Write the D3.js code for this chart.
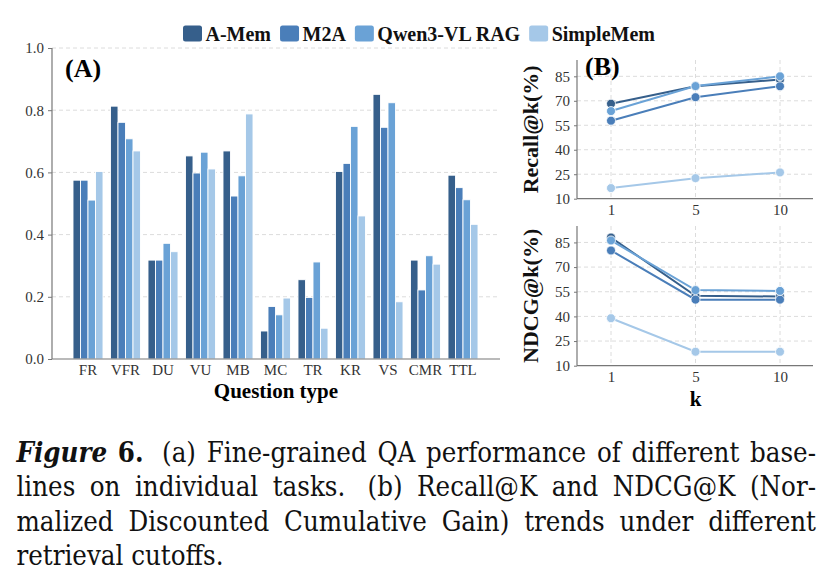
<!DOCTYPE html>
<html>
<head>
<meta charset="utf-8">
<script src="https://cdn.jsdelivr.net/npm/d3@7"></script>
<style>
  body { margin: 0; background: #fff; }
  svg { display: block; }
</style>
</head>
<body>
<div id="canvas"></div>
<script>
// panel (A): question types and per-method scores
var CATEGORIES = ['FR', 'VFR', 'DU', 'VU', 'MB', 'MC', 'TR', 'KR', 'VS', 'CMR', 'TTL']
var SERIES = ['A-Mem', 'M2A', 'Qwen3-VL RAG', 'SimpleMem']
var A_MEM = [0.575, 0.813, 0.318, 0.653, 0.669, 0.090, 0.255, 0.603, 0.851, 0.318, 0.591]
var M2A = [0.575, 0.761, 0.318, 0.598, 0.524, 0.169, 0.198, 0.629, 0.745, 0.222, 0.551]
var QWEN = [0.511, 0.708, 0.372, 0.665, 0.589, 0.142, 0.312, 0.748, 0.824, 0.332, 0.512]
var SIMPLEMEM = [0.603, 0.669, 0.345, 0.611, 0.788, 0.196, 0.099, 0.460, 0.184, 0.305, 0.433]
var BAR_TICKS = [0, 0.2, 0.4, 0.6, 0.8, 1.0]

// panel (B): retrieval cutoffs
var K_VALUES = ['1', '5', '10']
var RECALL_A_MEM = [68.2, 78.9, 83.0]
var RECALL_M2A = [57.8, 72.2, 78.9]
var RECALL_QWEN = [63.7, 79.0, 85.0]
var RECALL_SIMPLEMEM = [16.5, 22.6, 26.1]
var NDCG_A_MEM = [88.0, 52.5, 52.1]
var NDCG_M2A = [80.1, 50.2, 50.2]
var NDCG_QWEN = [86.2, 56.0, 55.5]
var NDCG_SIMPLEMEM = [38.9, 18.5, 18.5]
var LINE_TICKS = [10, 25, 40, 55, 70, 85]

var CAPTION_LABEL = ['Figure', '6.']
var CAPTION_LINES = [
  '(a) Fine-grained QA performance of different base-',
  'lines on individual tasks.  (b) Recall@K and NDCG@K (Nor-',
  'malized Discounted Cumulative Gain) trends under different',
  'retrieval cutoffs.'
]

var COLORS = ['#365f8b', '#4a7eb9', '#6aa2d6', '#a5c8e8']
var FONT = '"Liberation Serif", "Times New Roman", serif'
var CAPTION_FONT = '"DejaVu Serif Condensed", "DejaVu Serif", serif'
var AXIS_COLOR = '#777'
var GRID_COLOR = '#dcdcdc'

var WIDTH = 839
var HEIGHT = 585

var svg = d3.select('#canvas').append('svg')
  .attr('width', WIDTH)
  .attr('height', HEIGHT)
  .attr('font-family', FONT)

var styleAxis = function (g, size) {
  g.select('.domain').remove()
  g.selectAll('.tick line').attr('stroke', AXIS_COLOR).attr('stroke-width', 1)
  g.selectAll('.tick text')
    .attr('fill', '#333')
    .attr('font-size', size || 15)
    .attr('font-family', FONT)
}

// ---------- (A) bar chart ----------
var BAR = {left: 52, right: 500, top: 48, bottom: 359}
var barValues = [A_MEM, M2A, QWEN, SIMPLEMEM]

var x = d3.scaleBand()
  .domain(CATEGORIES)
  .range([69.25, 481.75])
  .paddingInner(0.2)
  .paddingOuter(0.1)

var xs = d3.scaleBand()
  .domain(SERIES)
  .range([0, x.bandwidth()])

var y = d3.scaleLinear().domain([0, 1]).range([BAR.bottom, BAR.top])

var barG = svg.append('g')

barG.append('g').selectAll('line')
  .data(BAR_TICKS.filter(function (d) { return d > 0 }))
  .join('line')
  .attr('x1', BAR.left).attr('x2', BAR.right)
  .attr('y1', y).attr('y2', y)
  .attr('stroke', GRID_COLOR)
  .attr('stroke-dasharray', '4,3')

SERIES.forEach(function (s, si) {
  barG.append('g').selectAll('rect')
    .data(barValues[si])
    .join('rect')
    .attr('x', function (d, i) { return x(CATEGORIES[i]) + xs(s) })
    .attr('y', function (d) { return y(d) })
    .attr('width', xs.bandwidth())
    .attr('height', function (d) { return y(0) - y(d) })
    .attr('fill', COLORS[si])
    .attr('stroke', '#fff')
    .attr('stroke-width', 0.9)
})

barG.append('line')
  .attr('x1', BAR.left).attr('x2', BAR.left)
  .attr('y1', y(1)).attr('y2', y(0))
  .attr('stroke', AXIS_COLOR).attr('stroke-width', 1.2)
barG.append('line')
  .attr('x1', BAR.left).attr('x2', BAR.right)
  .attr('y1', y(0)).attr('y2', y(0))
  .attr('stroke', AXIS_COLOR).attr('stroke-width', 1.2)

barG.append('g')
  .attr('transform', 'translate(' + BAR.left + ',0)')
  .call(d3.axisLeft(y).tickValues(BAR_TICKS).tickFormat(d3.format('.1f')).tickSize(4).tickPadding(4))
  .call(styleAxis)

barG.append('g')
  .attr('transform', 'translate(0,' + BAR.bottom + ')')
  .call(d3.axisBottom(x).tickSize(0).tickPadding(5))
  .call(styleAxis)

barG.append('text')
  .attr('x', (BAR.left + BAR.right) / 2)
  .attr('y', 398)
  .attr('text-anchor', 'middle')
  .attr('font-weight', 'bold')
  .attr('font-size', 21)
  .text('Question type')

barG.append('text')
  .attr('x', 65).attr('y', 77)
  .attr('font-weight', 'bold')
  .attr('font-size', 26)
  .text('(A)')

// legend
var legend = svg.append('g')
var lx = 183
SERIES.forEach(function (s, i) {
  legend.append('rect')
    .attr('x', lx).attr('y', 25.5)
    .attr('width', 19).attr('height', 16)
    .attr('rx', 2.5)
    .attr('fill', COLORS[i])
  var t = legend.append('text')
    .attr('x', lx + 22.5).attr('y', 41)
    .attr('font-weight', 'bold')
    .attr('font-size', 20)
    .attr('fill', '#111')
    .text(s)
  lx += 22.5 + t.node().getComputedTextLength() + 9
})

// ---------- (B) line charts ----------
var LINE_LEFT = 577
var LINE_RIGHT = 813
var xk = d3.scalePoint().domain(K_VALUES).range([611, 780])

var drawPanel = function (top, bottom, series, label) {
  var g = svg.append('g')
  var yl = d3.scaleLinear().domain([10, 95]).range([bottom, top])

  g.append('g').selectAll('line')
    .data(LINE_TICKS.filter(function (d) { return d > 10 }))
    .join('line')
    .attr('x1', LINE_LEFT).attr('x2', LINE_RIGHT)
    .attr('y1', yl).attr('y2', yl)
    .attr('stroke', GRID_COLOR)
    .attr('stroke-dasharray', '4,3')
  g.append('g').selectAll('line')
    .data(K_VALUES)
    .join('line')
    .attr('x1', xk).attr('x2', xk)
    .attr('y1', top).attr('y2', bottom)
    .attr('stroke', GRID_COLOR)
    .attr('stroke-dasharray', '4,3')

  var line = d3.line()
    .x(function (d, i) { return xk(K_VALUES[i]) })
    .y(function (d) { return yl(d) })

  series.forEach(function (vals, si) {
    g.append('path')
      .attr('d', line(vals))
      .attr('fill', 'none')
      .attr('stroke', COLORS[si])
      .attr('stroke-width', 2)
    g.append('g').selectAll('circle')
      .data(vals)
      .join('circle')
      .attr('cx', function (d, i) { return xk(K_VALUES[i]) })
      .attr('cy', function (d) { return yl(d) })
      .attr('r', 4.5)
      .attr('fill', COLORS[si])
      .attr('stroke', '#fff')
      .attr('stroke-width', 0.8)
  })

  g.append('line')
    .attr('x1', LINE_LEFT).attr('x2', LINE_LEFT)
    .attr('y1', top).attr('y2', bottom)
    .attr('stroke', AXIS_COLOR).attr('stroke-width', 1.2)
  g.append('line')
    .attr('x1', LINE_LEFT).attr('x2', LINE_RIGHT)
    .attr('y1', bottom).attr('y2', bottom)
    .attr('stroke', AXIS_COLOR).attr('stroke-width', 1.2)

  g.append('g')
    .attr('transform', 'translate(' + LINE_LEFT + ',0)')
    .call(d3.axisLeft(yl).tickValues(LINE_TICKS).tickSize(3).tickPadding(4))
    .call(styleAxis)
  g.append('g')
    .attr('transform', 'translate(0,' + bottom + ')')
    .call(d3.axisBottom(xk).tickSize(0).tickPadding(6))
    .call(styleAxis)

  g.append('text')
    .attr('transform', 'translate(538,' + ((top + bottom) / 2) + ') rotate(-90)')
    .attr('text-anchor', 'middle')
    .attr('font-weight', 'bold')
    .attr('font-size', 22)
    .attr('fill', '#111')
    .text(label)
}

drawPanel(60, 198.7, [RECALL_A_MEM, RECALL_M2A, RECALL_QWEN, RECALL_SIMPLEMEM], 'Recall@k(%)')
drawPanel(226, 365.7, [NDCG_A_MEM, NDCG_M2A, NDCG_QWEN, NDCG_SIMPLEMEM], 'NDCG@k(%)')

svg.append('text')
  .attr('x', 585).attr('y', 75)
  .attr('font-weight', 'bold')
  .attr('font-size', 26)
  .text('(B)')

svg.append('text')
  .attr('x', xk('5')).attr('y', 406)
  .attr('text-anchor', 'middle')
  .attr('font-weight', 'bold')
  .attr('font-size', 21)
  .text('k')

// ---------- caption (justified by hand) ----------
var CAP_LEFT = 16.5
var CAP_RIGHT = 816
var CAP_BASE = 461.5
var CAP_LEAD = 34.5

var cap = svg.append('g').attr('font-family', CAPTION_FONT).attr('fill', '#111')

var probe = cap.append('text').attr('font-size', 100).text(CAPTION_LINES[CAPTION_LINES.length - 1])
var fs = 100 * 207 / probe.node().getComputedTextLength()
probe.remove()

var measure = function (str, weight, style) {
  var t = cap.append('text')
    .attr('font-size', fs)
    .attr('font-weight', weight || 'normal')
    .attr('font-style', style || 'normal')
    .text(str)
  var w = t.node().getComputedTextLength()
  t.remove()
  return w
}
var spaceW = measure('a a') - measure('aa')

CAPTION_LINES.forEach(function (line, li) {
  var tokens = []
  if (li === 0) {
    tokens.push({t: CAPTION_LABEL[0], w: 'bold', s: 'italic', extra: 0})
    tokens.push({t: CAPTION_LABEL[1], w: 'bold', s: 'normal', extra: spaceW})
  }
  line.split(' ').forEach(function (p) {
    if (p === '') {
      if (tokens.length) tokens[tokens.length - 1].extra += spaceW
      return
    }
    tokens.push({t: p, w: 'normal', s: 'normal', extra: 0})
  })
  tokens.forEach(function (tk) { tk.width = measure(tk.t, tk.w, tk.s) })

  var last = li === CAPTION_LINES.length - 1
  var total = d3.sum(tokens, function (tk) { return tk.width + tk.extra })
  var gap = last ? spaceW : (CAP_RIGHT - CAP_LEFT - total) / (tokens.length - 1)

  var cx = CAP_LEFT
  var text = cap.append('text')
    .attr('y', CAP_BASE + li * CAP_LEAD)
    .attr('font-size', fs)
  tokens.forEach(function (tk) {
    text.append('tspan')
      .attr('x', cx)
      .attr('font-weight', tk.w)
      .attr('font-style', tk.s)
      .text(tk.t)
    cx += tk.width + tk.extra + gap
  })
})
</script>
</body>
</html>
